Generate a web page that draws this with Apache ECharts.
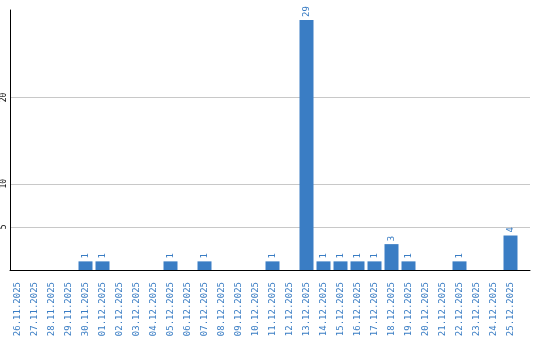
<!DOCTYPE html>
<html><head><meta charset="utf-8">
<script src="https://cdn.jsdelivr.net/npm/echarts@6/dist/echarts.min.js"></script>
<style>html,body{margin:0;padding:0;background:#fff}#c{width:540px;height:340px}</style>
</head><body><div id="c"></div>
<script>
const categories = ['26.11.2025','27.11.2025','28.11.2025','29.11.2025','30.11.2025','01.12.2025','02.12.2025','03.12.2025','04.12.2025','05.12.2025','06.12.2025','07.12.2025','08.12.2025','09.12.2025','10.12.2025','11.12.2025','12.12.2025','13.12.2025','14.12.2025','15.12.2025','16.12.2025','17.12.2025','18.12.2025','19.12.2025','20.12.2025','21.12.2025','22.12.2025','23.12.2025','24.12.2025','25.12.2025'];
const values = [0,0,0,0,1,1,0,0,0,1,0,1,0,0,0,1,0,29,1,1,1,1,3,1,0,0,1,0,0,4];
const yTicks = [5,10,20];
const yMax = 30.15;
const blue = '#3a7dc4';
const font = 'DejaVu Sans Mono';
const chart = echarts.init(document.getElementById('c'));
chart.setOption({
  animation: false,
  grid: [
    {left: 9, top: 10, width: 510, bottom: 70},
    {left: 10, top: 10, right: 10, bottom: 70}
  ],
  xAxis: [
    {type: 'category', gridIndex: 0, data: categories,
     axisLine: {show: false}, axisTick: {show: false},
     axisLabel: {rotate: 90, interval: 0, color: blue, fontFamily: font, fontSize: 9, margin: 12}},
    {type: 'value', gridIndex: 1, min: 0, max: 1,
     axisLine: {show: true, onZero: false, lineStyle: {color: '#000', width: 1}},
     axisTick: {show: false}, axisLabel: {show: false}, splitLine: {show: false}}
  ],
  yAxis: [
    {type: 'value', gridIndex: 0, min: 0, max: yMax, show: false, splitLine: {show: false}},
    {type: 'value', gridIndex: 1, min: 0, max: yMax,
     axisLine: {show: true, lineStyle: {color: '#000', width: 1}},
     axisTick: {show: false, customValues: yTicks},
     axisLabel: {customValues: yTicks, rotate: 90, color: '#000', fontFamily: font, fontSize: 8, margin: 2},
     splitLine: {show: true, lineStyle: {color: '#c8c8c8', width: 1}}}
  ],
  series: [{
    type: 'bar', xAxisIndex: 0, yAxisIndex: 0,
    data: values.map(v => v === 0 ? null : v),
    barWidth: 14,
    itemStyle: {color: blue},
    label: {show: true, position: 'top', rotate: 90, align: 'left', verticalAlign: 'middle',
      distance: 3, color: blue, fontFamily: font, fontSize: 9}
  }]
});
</script></body></html>
